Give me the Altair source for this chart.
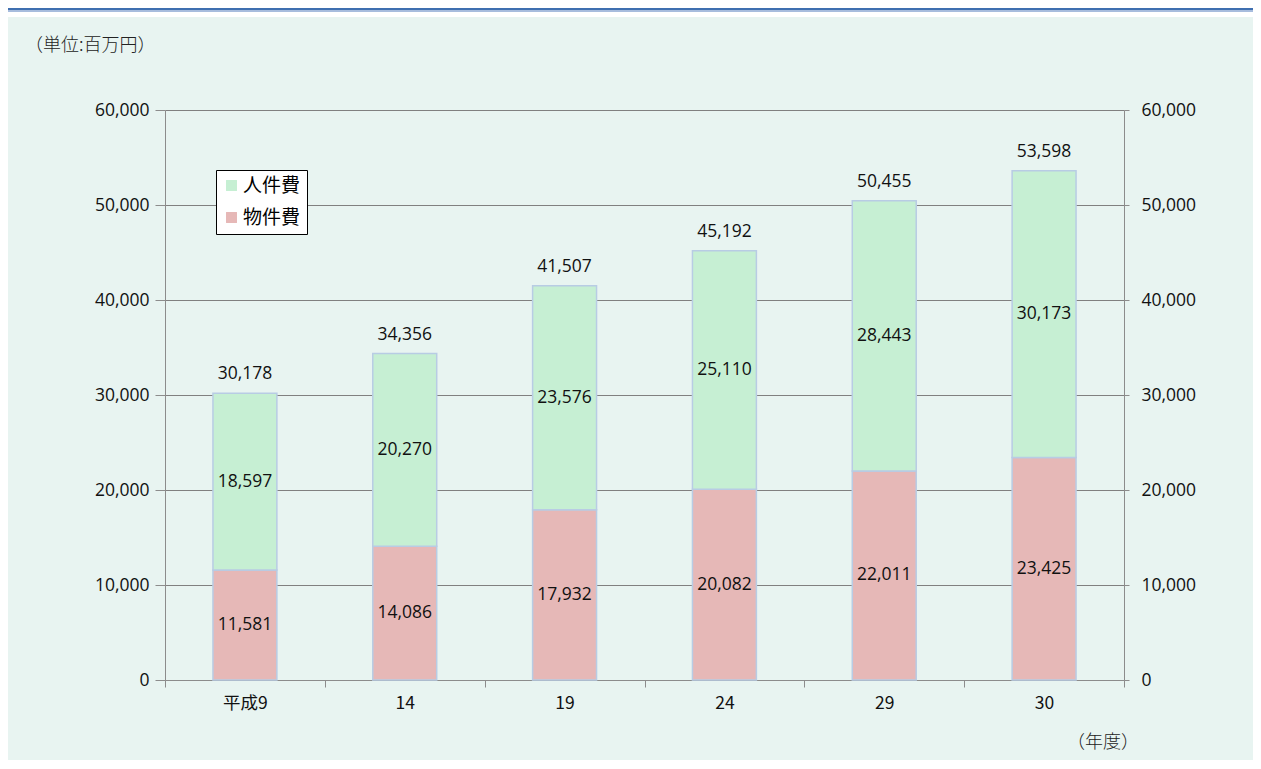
import altair as alt
import pandas as pd

years = ["平成9", "14", "19", "24", "29", "30"]
buppin = [11581, 14086, 17932, 20082, 22011, 23425]
jinken = [18597, 20270, 23576, 25110, 28443, 30173]
totals = [30178, 34356, 41507, 45192, 50455, 53598]
series = ["人件費", "物件費"]
colors = ["#C6EFD3", "#E6B8B7"]

rows = []
for y, b, j in zip(years, buppin, jinken):
    rows.append({"year": y, "kind": "物件費", "value": b, "ord": 0})
    rows.append({"year": y, "kind": "人件費", "value": j, "ord": 1})
df = pd.DataFrame(rows)
tot = pd.DataFrame({"year": years, "total": totals})

NUM_FONT = "Open Sans"
JP_FONT = "Noto Sans CJK JP"
W, H = 959, 570
FS = 17.5

xenc = alt.X("year:N", sort=years, title=None,
             scale=alt.Scale(paddingInner=0, paddingOuter=0),
             axis=alt.Axis(tickBand="extent", labelAngle=0, labelFont=JP_FONT,
                           labelFontSize=17.5, labelColor="#111", tickSize=7,
                           tickColor="#8C8C8C", domainColor="#8C8C8C",
                           labelPadding=7, grid=False))
yscale = alt.Scale(domain=[0, 60000])

bars = alt.Chart(df).mark_bar(width=alt.RelativeBandSize(0.4), stroke="#B8CCE4",
                              strokeWidth=1.5).encode(
    x=xenc,
    y=alt.Y("value:Q", stack="zero", scale=yscale, title=None,
            axis=alt.Axis(orient="left", values=list(range(0, 60001, 10000)),
                          format=",d", labelFont=NUM_FONT, labelFontSize=FS,
                          labelColor="#111", tickSize=10, tickColor="#8C8C8C",
                          domainColor="#8C8C8C", gridColor="#808080",
                          gridWidth=1.2, labelPadding=6)),
    color=alt.Color("kind:N", scale=alt.Scale(domain=series, range=colors),
                    legend=alt.Legend(orient="none", legendX=51, legendY=60,
                                      fillColor="white", strokeColor="black",
                                      padding=6, symbolType="square",
                                      symbolSize=120, symbolStrokeWidth=0,
                                      labelFont=JP_FONT, labelFontSize=19,
                                      labelColor="#000", rowPadding=12,
                                      labelOffset=2, title=None)),
    order=alt.Order("ord:Q", sort="ascending"),
)

seg = alt.Chart(df).transform_stack(
    stack="value", groupby=["year"], as_=["v0", "v1"],
    sort=[alt.SortField("ord", order="ascending")]
).transform_calculate(mid="(datum.v0 + datum.v1) / 2").mark_text(
    font=NUM_FONT, fontSize=FS, color="#111"
).encode(
    x=alt.X("year:N", sort=years),
    y=alt.Y("mid:Q", scale=yscale, axis=None),
    text=alt.Text("value:Q", format=",d"),
)

top = alt.Chart(tot).mark_text(font=NUM_FONT, fontSize=FS, color="#111", dy=-19).encode(
    x=alt.X("year:N", sort=years),
    y=alt.Y("total:Q", scale=yscale, title=None,
            axis=alt.Axis(orient="right", values=list(range(0, 60001, 10000)),
                          format=",d", labelFont=NUM_FONT, labelFontSize=FS,
                          labelColor="#111", tickSize=5, tickColor="#8C8C8C",
                          domainColor="#8C8C8C", grid=False, labelPadding=12)),
    text=alt.Text("total:Q", format=",d"),
)

unit = alt.Chart(pd.DataFrame({"t": ["（単位:百万円）"]})).mark_text(
    font=JP_FONT, fontSize=18, color="#222", align="left", fontWeight=300, dx=-10).encode(
    x=alt.value(-130), y=alt.value(-64), text="t:N")
nendo = alt.Chart(pd.DataFrame({"t": ["（年度）"]})).mark_text(
    font=JP_FONT, fontSize=18, color="#222", align="center", fontWeight=300).encode(
    x=alt.value(938), y=alt.value(633), text="t:N")

strip = alt.Chart(pd.DataFrame({"a": [0]})).mark_rect(color="white").encode(
    x=alt.value(-157), x2=alt.value(W + 130), y=alt.value(-102), y2=alt.value(-93))
line1 = alt.Chart(pd.DataFrame({"a": [0]})).mark_rule(color="#3F6FB0", strokeWidth=2).encode(
    x=alt.value(-160), x2=alt.value(W + 130), y=alt.value(-101))
line2 = alt.Chart(pd.DataFrame({"a": [0]})).mark_rule(color="#A7BCDD", strokeWidth=2).encode(
    x=alt.value(-160), x2=alt.value(W + 130), y=alt.value(-99))

chart = alt.layer(strip, line1, line2, bars, seg, top, unit, nendo).resolve_axis(
    y="independent"
).properties(
    width=W, height=H,
    padding={"left": 157, "top": 102, "right": 129, "bottom": 80},
    autosize=alt.AutoSizeParams(type="none"),
    background="#E8F4F1",
).configure_view(stroke=None)

chart.save("out.html", embed_options={"renderer": "svg", "actions": False})
